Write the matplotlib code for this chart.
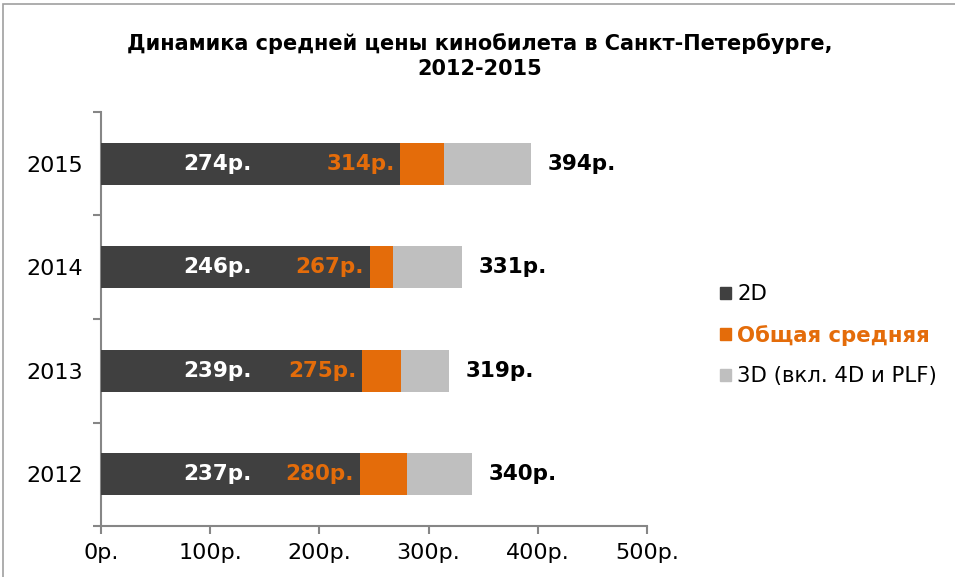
import matplotlib
matplotlib.use("Agg")
import matplotlib.pyplot as plt
from matplotlib.patches import Patch, Rectangle
from matplotlib.ticker import FuncFormatter, FixedLocator

years = ["2012", "2013", "2014", "2015"]
price_2d = [237, 239, 246, 274]
price_avg = [280, 275, 267, 314]
price_3d = [340, 319, 331, 394]

C_2D = "#404040"
C_AVG = "#E46C0A"
C_3D = "#BFBFBF"
AXIS = "#868686"

plt.rcParams["font.family"] = ["DejaVu Sans"]

fig = plt.figure(figsize=(9.55, 5.77), dpi=100)
ax = fig.add_axes([101 / 955, 1 - 526 / 577, 546 / 955, 414 / 577])

y = list(range(len(years)))
h = 0.41
ax.barh(y, price_3d, height=h, color=C_3D, zorder=2)
ax.barh(y, price_avg, height=h, color=C_AVG, zorder=3)
ax.barh(y, price_2d, height=h, color=C_2D, zorder=4)

fs = 15.5
for i in y:
    ax.text(138, i, f"{price_2d[i]}р.", ha="right", va="center", color="white",
            fontsize=fs, fontweight="bold", zorder=5)
    ax.annotate(f"{price_avg[i]}р.", (price_2d[i], i), xytext=(-4, 0),
                textcoords="offset points", ha="right", va="center", color=C_AVG,
                fontsize=fs, fontweight="bold", zorder=5)
    ax.annotate(f"{price_3d[i]}р.", (price_3d[i], i), xytext=(12, 0),
                textcoords="offset points", ha="left", va="center", color="black",
                fontsize=fs, fontweight="bold", zorder=5)

ax.set_xlim(0, 500)
ax.set_ylim(-0.5, len(years) - 0.5)
ax.xaxis.set_major_locator(FixedLocator([0, 100, 200, 300, 400, 500]))
ax.xaxis.set_major_formatter(FuncFormatter(lambda v, p: f"{int(v)}р."))
ax.set_yticks(y)
ax.set_yticklabels(years)
ax.set_yticks([k - 0.5 for k in range(len(years) + 1)], minor=True)
ax.tick_params(axis="y", which="major", length=0, pad=13, labelsize=16)
ax.tick_params(axis="y", which="minor", length=6, color=AXIS, width=1.5)
ax.tick_params(axis="x", length=6, color=AXIS, width=1.5, labelsize=16, pad=6)

for s in ["top", "right"]:
    ax.spines[s].set_visible(False)
for s in ["left", "bottom"]:
    ax.spines[s].set_color(AXIS)
    ax.spines[s].set_linewidth(1.5)

fig.text(480 / 955, 1 - 56 / 577, "Динамика средней цены кинобилета в Санкт-Петербурге,\n2012-2015",
         ha="center", va="center", fontsize=15, fontweight="bold", linespacing=1.35)

handles = [Patch(color=C_2D), Patch(color=C_AVG), Patch(color=C_3D)]
labels = ["2D", "Общая средняя", "3D (вкл. 4D и PLF)"]
leg = fig.legend(handles, labels, loc="upper left", bbox_to_anchor=(701 / 955, 1 - 265 / 577),
                 frameon=False, fontsize=15.3, handlelength=0.5, handleheight=0.5,
                 handletextpad=0.3, labelspacing=0.97)
txts = leg.get_texts()
txts[1].set_color(C_AVG)
txts[1].set_fontweight("bold")

fig.patches.append(Rectangle((3 / 955, -0.1), 2, 1.1 - 4 / 577, transform=fig.transFigure,
                             fill=False, edgecolor="#A0A0A0", linewidth=1.2))

fig.savefig("out.png", dpi=100)
